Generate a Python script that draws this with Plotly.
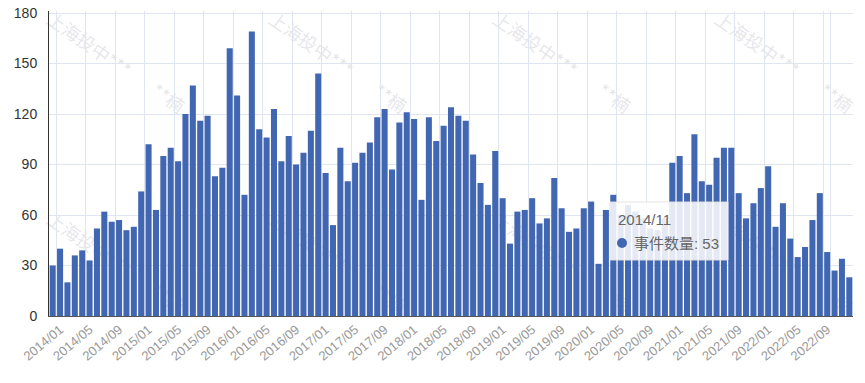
import plotly.graph_objects as go

# ---- data ----
start_year, start_month, n_months = 2013, 12, 109
months = []
y, m = start_year, start_month
for _ in range(n_months):
    months.append(f"{y}/{m:02d}")
    m += 1
    if m > 12:
        m = 1
        y += 1

values = [
    30, 40, 20, 36, 39, 33, 52, 62, 56, 57, 51, 53, 74, 102, 63, 95, 100, 92, 120,
    137, 116, 119, 83, 88, 159, 131, 72, 169, 111, 106, 123, 92, 107, 90, 97, 110, 144, 85,
    54, 100, 80, 91, 97, 103, 118, 123, 87, 115, 121, 117, 69, 118, 104, 113, 124, 119, 116,
    96, 79, 66, 98, 70, 43, 62, 63, 70, 55, 58, 82, 64, 50, 52, 64, 68, 31, 63, 72,
    60, 66, 62, 58, 52, 51, 58,
    91, 95, 73, 108, 80, 78, 94, 100, 100, 73, 58, 67, 76, 89, 53, 67, 46, 35, 41, 57, 73, 38, 27, 34, 23,
]
series_name = "事件数量"
tick_labels = [mm for mm in months if mm.endswith(("/01", "/05", "/09"))]
y_ticks = [0, 30, 60, 90, 120, 150, 180]
y_max = 180
watermark_a = "上海投中***"
watermark_b = "**楠"
tooltip_index = months.index("2014/11")

# ---- layout geometry ----
# the page body has an 8px margin, so work in page pixels and convert
OFF = 8
W, H = 865 - OFF, 383 - OFF
PL, PR, PT, PB = 49, 853, 11, 316          # plot area in page pixels (top padded 2px)
L, T = PL - OFF, PT - OFF
R, B = W - (PR - OFF), H - (PB - OFF)
PW, PH = PR - PL, PB - PT
UNIT = (PB - 13) / y_max                    # px per unit so that 180 sits at page y=13
BAR_COLOR = "#4267b2"
GRID = "#E0E6F1"
CJK = "Liberation Sans, Noto Sans CJK SC, sans-serif"


def px(xp):
    return (xp - PL) / PW


def py(yp):
    return (PB - yp) / PH


fig = go.Figure()
fig.add_trace(go.Bar(
    x=months, y=values, name=series_name,
    marker=dict(color=BAR_COLOR, line=dict(width=0)),
))

shapes = []
# watermarks (beneath everything)
for row_dy in (0, 200):
    for cx in (88, 310, 534, 756):
        for txt, dx, dy in ((watermark_a, 0, 0), (watermark_b, 79, 54)):
            x0, y0 = cx + dx, 46 + dy + row_dy
            shapes.append(dict(
                type="rect", xref="paper", yref="paper", layer="below",
                x0=px(x0 - 1), x1=px(x0 + 1), y0=py(y0 + 1), y1=py(y0 - 1),
                line=dict(width=0), fillcolor="rgba(0,0,0,0)",
                label=dict(text=txt, textangle=35, textposition="middle center",
                           font=dict(family="Noto Sans CJK SC", size=18,
                                     color="rgba(170,170,185,0.3)")),
            ))

# tooltip box and marker dot
shapes.append(dict(
    type="rect", xref="paper", yref="paper", layer="above",
    x0=px(610), x1=px(728), y0=py(260), y1=py(202),
    fillcolor="rgba(255,255,255,0.86)", line=dict(color="rgba(225,225,225,0.9)", width=1),
))
shapes.append(dict(
    type="circle", xref="paper", yref="paper", layer="above",
    x0=px(617), x1=px(627), y0=py(248), y1=py(238),
    fillcolor=BAR_COLOR, line=dict(width=0),
))

annotations = [
    dict(xref="paper", yref="paper", x=px(616), y=py(220), xanchor="left", yanchor="middle",
         text=months[tooltip_index], showarrow=False,
         font=dict(family=CJK, size=15, color="#666")),
    dict(xref="paper", yref="paper", x=px(632), y=py(243), xanchor="left", yanchor="middle",
         text=f"{series_name}: {values[tooltip_index]}",
         showarrow=False, font=dict(family=CJK, size=15, color="#666")),
]

fig.update_layout(
    width=W, height=H,
    margin=dict(l=L, r=R, t=T, b=B, pad=0, autoexpand=False),
    paper_bgcolor="white", plot_bgcolor="white",
    showlegend=False, bargap=0.18,
    shapes=shapes, annotations=annotations,
    font=dict(family=CJK),
)
fig.update_xaxes(
    type="category", categoryorder="array", categoryarray=months,
    tickmode="array", tickvals=tick_labels, ticktext=tick_labels,
    tickson="boundaries", ticks="", ticklen=0, automargin=False,
    showgrid=True, gridcolor=GRID, gridwidth=1,
    tickangle=-40, tickfont=dict(size=13, color="#999999"),
    showline=True, linecolor="#555", linewidth=1,
    range=[-0.5, len(months) - 0.5], zeroline=False,
)
fig.update_yaxes(
    range=[0, PH / UNIT], tickmode="array", tickvals=y_ticks, automargin=False,
    showgrid=True, gridcolor=GRID, gridwidth=1,
    showline=True, linecolor="#333", linewidth=1,
    ticks="", ticklabelstandoff=8, ticklabeloverflow="allow",
    tickfont=dict(size=14, color="#333"), zeroline=False,
)

fig.write_html("out.html")
